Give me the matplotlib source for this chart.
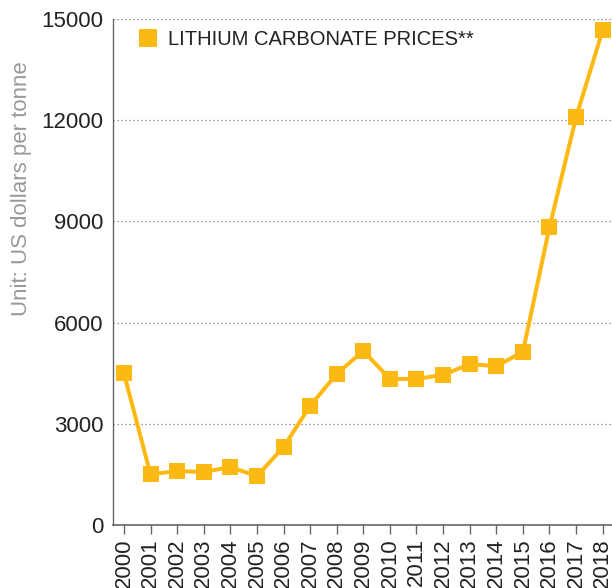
import matplotlib
matplotlib.use("Agg")
import matplotlib.pyplot as plt
from matplotlib.lines import Line2D

years = [str(y) for y in range(2000, 2019)]
prices = [4500, 1500, 1600, 1570, 1720, 1450, 2310, 3530, 4480, 5160,
          4330, 4330, 4450, 4770, 4710, 5130, 8830, 12090, 14670]
y_ticks = [0, 3000, 6000, 9000, 12000, 15000]

orange = "#FDB913"
text_col = "#222222"

plt.rcParams['font.family'] = ['Liberation Sans', 'DejaVu Sans']

fig = plt.figure(figsize=(6.12, 5.88), dpi=100)
ax = fig.add_axes([113 / 612, 1 - 525 / 588, 1 - 113 / 612, (525 - 19) / 588])

x = list(range(len(years)))
ax.plot(x, prices, color=orange, lw=2.9, marker='s', markersize=12,
        markeredgewidth=0, clip_on=False, zorder=3)

ax.set_xlim(-0.41, 18.35)
ax.set_ylim(0, 15000)
ax.set_yticks(y_ticks)
ax.set_yticklabels([str(v) for v in y_ticks])
ax.set_xticks(x)
ax.set_xticklabels(years, rotation=90)

# dotted grid lines except at zero
for v in y_ticks[1:]:
    ax.axhline(v, color="#777777", lw=0.9, ls=(0, (1, 2.2)), zorder=1)

for s in ['top', 'right']:
    ax.spines[s].set_visible(False)
ax.spines['left'].set_color("#666666")
ax.spines['bottom'].set_color("#666666")
ax.spines['left'].set_linewidth(1.0)
ax.spines['bottom'].set_linewidth(1.2)

ax.tick_params(axis='y', length=0, pad=7, labelsize=16, labelcolor=text_col)
ax.tick_params(axis='x', length=6.5, width=1, color="#666666", pad=3,
               labelsize=16, labelcolor=text_col)

ax.set_ylabel("Unit: US dollars per tonne", color="#999999", fontsize=16,
              labelpad=5)
ax.yaxis.set_label_coords(-0.163, 0.664)

handle = Line2D([], [], color=orange, marker='s', markersize=13.5, lw=0,
                markeredgewidth=0)
leg = ax.legend([handle], ["LITHIUM CARBONATE PRICES**"], loc='upper left',
                bbox_to_anchor=(0.022, 1.007), frameon=False, fontsize=14.5,
                handlelength=1.0, handletextpad=0.5, borderaxespad=0.3)
for t in leg.get_texts():
    t.set_color(text_col)

fig.savefig("out.png", dpi=100)
